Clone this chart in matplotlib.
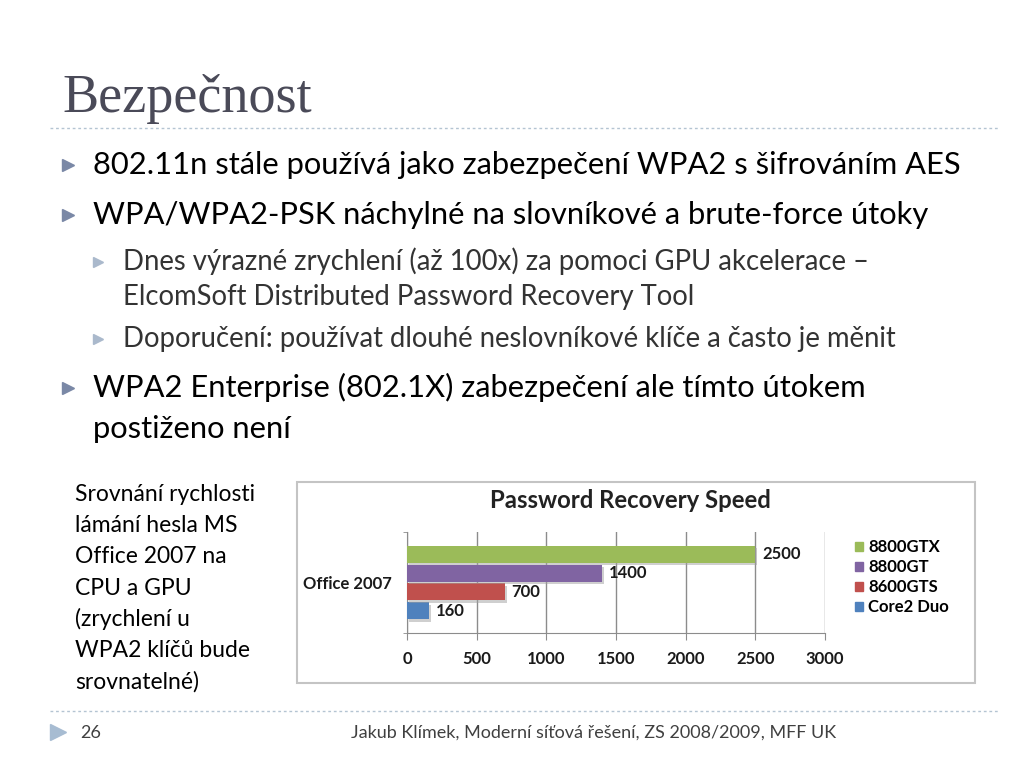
import matplotlib
matplotlib.use('Agg')
import matplotlib.pyplot as plt
import matplotlib.patheffects as pe
from matplotlib.patches import Rectangle, Patch

# chart data
category = ['Office 2007']
series = ['Core2 Duo', '8600GTS', '8800GT', '8800GTX']
speed = [160, 700, 1400, 2500]
colors = ['#4F81BD', '#C0504D', '#8064A2', '#9BBB59']
xticks = [0, 500, 1000, 1500, 2000, 2500, 3000]

title = 'Bezpečnost'
bullets = ['802.11n stále používá jako zabezpečení WPA2 s šifrováním AES',
           'WPA/WPA2-PSK náchylné na slovníkové a brute-force útoky']
sub_bullets = [['Dnes výrazné zrychlení (až 100x) za pomoci GPU akcelerace –',
                'ElcomSoft Distributed Password Recovery Tool'],
               ['Doporučení: používat dlouhé neslovníkové klíče a často je měnit']]
bullet3 = ['WPA2 Enterprise (802.1X) zabezpečení ale tímto útokem',
           'postiženo není']
side_note = ['Srovnání rychlosti', 'lámání hesla MS', 'Office 2007 na',
             'CPU a GPU', '(zrychlení u', 'WPA2 klíčů bude', 'srovnatelné)']
footer = 'Jakub Klímek, Moderní síťová řešení, ZS 2008/2009, MFF UK'
page = '26'

W, H = 1024, 768
fig = plt.figure(figsize=(W / 100, H / 100), dpi=100)
fig.patch.set_facecolor('white')

# full-slide overlay in pixel coordinates
bg = fig.add_axes([0, 0, 1, 1], zorder=0)
bg.set_xlim(0, W)
bg.set_ylim(H, 0)
bg.axis('off')

body = 'Lato'
main_fs = 22.2
sub_fs = 19.8
bg.text(62, 112, title, family='Liberation Serif', fontsize=39,
        color='#4a4a58', va='baseline')
bg.plot([50, 1000], [128, 128], ls=(0, (2, 2)), color='#b4c4d2', lw=1)
bg.plot([50, 1000], [711, 711], ls=(0, (2, 2)), color='#b4c4d2', lw=1)

main_col = '#7a88a6'
sub_col = '#aab9cc'
bg.plot(68, 165, marker='>', ms=8, color=main_col)
bg.text(93, 174, bullets[0], family=body, fontsize=main_fs, va='baseline')
bg.plot(68, 215, marker='>', ms=8, color=main_col)
bg.text(93, 224, bullets[1], family=body, fontsize=main_fs, va='baseline')

bg.plot(98, 262, marker='>', ms=6.5, color=sub_col)
bg.text(123, 270, sub_bullets[0][0], family=body, fontsize=sub_fs,
        color='#333333', va='baseline')
bg.text(123, 305, sub_bullets[0][1], family=body, fontsize=sub_fs,
        color='#333333', va='baseline')
bg.plot(98, 339, marker='>', ms=6.5, color=sub_col)
bg.text(123, 347, sub_bullets[1][0], family=body, fontsize=sub_fs,
        color='#333333', va='baseline')

bg.plot(68, 388, marker='>', ms=8, color=main_col)
bg.text(93, 397, bullet3[0], family=body, fontsize=main_fs, va='baseline')
bg.text(93, 438, bullet3[1], family=body, fontsize=main_fs, va='baseline')

for i, line in enumerate(side_note):
    bg.text(75, 501 + i * 31.2, line, family=body, fontsize=16.5,
            va='baseline')

bg.plot(58, 732, marker='>', ms=11, color='#a7bcd2')
bg.text(80, 738, page, family=body, fontsize=13, color='#404040',
        va='baseline')
bg.text(594, 738, footer, family=body, fontsize=13, color='#404040',
        va='baseline', ha='center')

# chart frame
bg.add_patch(Rectangle((297, 482), 678, 201, fill=False,
                       ec='#c4c4c4', lw=1.5))
bg.text(630, 500, 'Password Recovery Speed', family=body, fontsize=17.2,
        weight='bold', color='#222222', ha='center', va='center')

# bar chart axes
ax = fig.add_axes([407 / W, 1 - 633 / H, 418 / W, 101 / H], zorder=1)
ax.set_facecolor('white')
cfont = {'family': body, 'size': 12, 'weight': 'bold'}
bh = 0.1875
shadow = [pe.SimplePatchShadow(offset=(1.5, -2), shadow_rgbFace='#a0a0a0',
                               alpha=0.5), pe.Normal()]
for i, (name, val, col) in enumerate(zip(series, speed, colors)):
    bars = ax.barh([(i - 1.5) * bh], [val], height=bh * 0.9, color=col,
                   label=name, zorder=3, path_effects=shadow)
    ax.bar_label(bars, padding=5, fontproperties=cfont, color='#1a1a1a')

ax.set_xlim(0, 3000)
ax.set_ylim(-0.5, 0.5)
ax.set_xticks(xticks)
ax.set_xticklabels([str(t) for t in xticks], fontproperties=cfont,
                   color='#1a1a1a')
ax.set_yticks([0])
ax.set_yticklabels(category, fontproperties=cfont, color='#1a1a1a')
ax.set_yticks([-0.5, 0.5], minor=True)
ax.tick_params(axis='y', which='major', length=0, pad=11)
ax.tick_params(axis='y', which='minor', length=3, color='#8c8c8c')
ax.tick_params(axis='x', length=5, color='#8c8c8c', pad=8)
ax.grid(axis='x', color='#8c8c8c', lw=1, zorder=0)
for s in ['top', 'right']:
    ax.spines[s].set_visible(False)
for s in ['left', 'bottom']:
    ax.spines[s].set_color('#8c8c8c')

handles = [Patch(color=c) for c in colors][::-1]
fig.legend(handles, series[::-1], loc='upper left',
           bbox_to_anchor=(855 / W, 1 - 539 / H), frameon=False,
           prop=cfont, handlelength=0.45, handleheight=0.45,
           handletextpad=0.35, labelspacing=0.25, borderpad=0,
           borderaxespad=0)

fig.savefig('out.png', dpi=100)
